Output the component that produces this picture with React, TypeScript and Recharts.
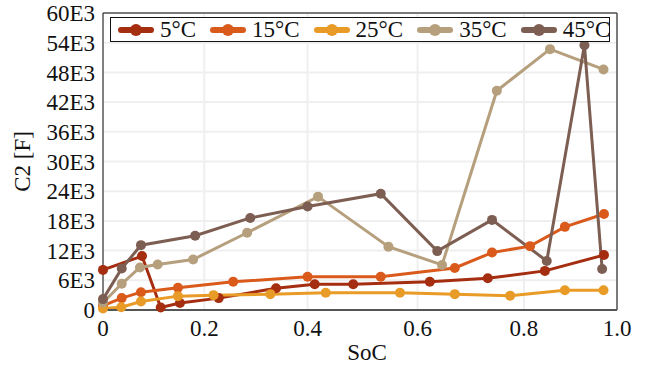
import React from 'react';
import { LineChart, Line, XAxis, YAxis, CartesianGrid, Legend, ReferenceLine } from 'recharts';

const FONT = '"Liberation Serif", "Times New Roman", serif';

const SERIES_NAMES = ['5°C', '15°C', '25°C', '35°C', '45°C'];
const SERIES_COLORS = ['#a52d10', '#da5a1b', '#e89c27', '#b59f7d', '#7d5e52'];

const SOC_5 = [0, 0.077, 0.114, 0.152, 0.228, 0.339, 0.413, 0.483, 0.623, 0.732, 0.845, 0.972];
const C2_5 = [8100, 10900, 500, 1400, 2400, 4400, 5200, 5200, 5700, 6400, 7900, 11100];

const SOC_15 = [0, 0.037, 0.075, 0.148, 0.256, 0.4, 0.533, 0.67, 0.74, 0.813, 0.888, 0.972];
const C2_15 = [900, 2400, 3600, 4500, 5700, 6700, 6700, 8500, 11600, 12900, 16800, 19400];

const SOC_25 = [0, 0.036, 0.075, 0.148, 0.218, 0.328, 0.433, 0.568, 0.67, 0.774, 0.888, 0.971];
const C2_25 = [300, 550, 1700, 2800, 3000, 3200, 3500, 3500, 3200, 2900, 4000, 4000];

const SOC_35 = [0, 0.037, 0.073, 0.108, 0.178, 0.283, 0.419, 0.547, 0.646, 0.749, 0.856, 0.971];
const C2_35 = [1500, 5300, 8600, 9200, 10200, 15600, 22900, 12800, 9100, 44300, 52700, 48600];

const SOC_45 = [0, 0.037, 0.075, 0.182, 0.289, 0.4, 0.533, 0.637, 0.74, 0.849, 0.93, 0.968];
const C2_45 = [2200, 8400, 13100, 15000, 18600, 20900, 23500, 11900, 18200, 9900, 53500, 8300];

const X_TICKS = [0, 0.2, 0.4, 0.6, 0.8, 1.0];
const X_TICK_LABELS = ['0', '0.2', '0.4', '0.6', '0.8', '1.0'];
const Y_TICKS = [0, 6000, 12000, 18000, 24000, 30000, 36000, 42000, 48000, 54000, 60000];
const Y_TICK_LABELS = ['0', '6E3', '12E3', '18E3', '24E3', '30E3', '36E3', '42E3', '48E3', '54E3', '60E3'];

// the reference's x axis is not evenly spaced: fraction of the axis length at each tick
const X_AXIS_FRACTIONS = [0, 0.197, 0.398, 0.612, 0.819, 1];

const zip = (xs: number[], ys: number[]) => xs.map((x, i) => ({ soc: x, c2: ys[i] }));

const SERIES = [
  { name: SERIES_NAMES[0], color: SERIES_COLORS[0], data: zip(SOC_5, C2_5) },
  { name: SERIES_NAMES[1], color: SERIES_COLORS[1], data: zip(SOC_15, C2_15) },
  { name: SERIES_NAMES[2], color: SERIES_COLORS[2], data: zip(SOC_25, C2_25) },
  { name: SERIES_NAMES[3], color: SERIES_COLORS[3], data: zip(SOC_35, C2_35) },
  { name: SERIES_NAMES[4], color: SERIES_COLORS[4], data: zip(SOC_45, C2_45) },
];

function piecewiseScale(knots: number[], fracs: number[], dom: number[] = [0, 1], rng: number[] = [0, 1]): any {
  let d = dom.slice();
  let r = rng.slice();
  const s: any = (v: number) => {
    let i = 0;
    while (i < knots.length - 2 && v > knots[i + 1]) i++;
    const f = fracs[i] + ((v - knots[i]) / (knots[i + 1] - knots[i])) * (fracs[i + 1] - fracs[i]);
    return r[0] + f * (r[1] - r[0]);
  };
  s.domain = (x?: number[]) => {
    if (x === undefined) return d.slice();
    d = Array.from(x);
    return s;
  };
  s.range = (x?: number[]) => {
    if (x === undefined) return r.slice();
    r = Array.from(x);
    return s;
  };
  s.copy = () => piecewiseScale(knots, fracs, d, r);
  s.ticks = () => knots.slice();
  s.invert = (p: number) => {
    const f = (p - r[0]) / (r[1] - r[0]);
    let i = 0;
    while (i < fracs.length - 2 && f > fracs[i + 1]) i++;
    return knots[i] + ((f - fracs[i]) / (fracs[i + 1] - fracs[i])) * (knots[i + 1] - knots[i]);
  };
  return s;
}

const xScale = piecewiseScale(X_TICKS, X_AXIS_FRACTIONS);

const tickStyle = { fontFamily: FONT, fontSize: 23, fill: '#111' };

const renderLegend = () => (
  <div
    style={{
      boxSizing: 'border-box',
      width: 500,
      height: 25,
      border: '1px solid #111',
      background: '#fff',
      display: 'flex',
      alignItems: 'center',
      paddingLeft: 7,
      fontFamily: FONT,
      fontSize: 23,
      color: '#111',
      whiteSpace: 'nowrap',
    }}
  >
    {SERIES.map((s) => (
      <div key={s.name} style={{ display: 'flex', alignItems: 'center', marginRight: 14 }}>
        <svg width={36} height={14} style={{ display: 'block' }}>
          <line x1={3} y1={7} x2={33} y2={7} stroke={s.color} strokeWidth={6} strokeLinecap="round" />
          <circle cx={18} cy={7} r={6} fill={s.color} />
        </svg>
        <span style={{ marginLeft: 6, lineHeight: '23px' }}>{s.name}</span>
      </div>
    ))}
  </div>
);

const YLabel = (props: any) => {
  const vb = props.viewBox || { x: 0, y: 0, width: 0, height: 0 };
  const x = vb.x + 30;
  const y = vb.y + vb.height / 2;
  return (
    <text
      x={x}
      y={y}
      transform={`rotate(-90, ${x}, ${y})`}
      textAnchor="middle"
      fontFamily={FONT}
      fontSize={23}
      fill="#111"
    >
      C2 [F]
    </text>
  );
};

export default function App() {
  return (
    <div style={{ position: 'absolute', left: 0, top: 0, background: '#fff' }}>
      <LineChart width={648} height={365} margin={{ top: 13, right: 31, bottom: 25, left: 0 }}>
        <CartesianGrid stroke="#efefef" strokeWidth={2} />
        <XAxis
          dataKey="soc"
          type="number"
          scale={xScale}
          domain={[0, 1]}
          ticks={X_TICKS}
          tickFormatter={(v: number) => X_TICK_LABELS[X_TICKS.indexOf(v)] ?? String(v)}
          tick={tickStyle}
          tickLine={false}
          tickMargin={4}
          height={30}
          axisLine={{ stroke: '#555', strokeWidth: 2 }}
          allowDuplicatedCategory={false}
          label={{ value: 'SoC', position: 'bottom', offset: 4, dx: 7, style: { fontFamily: FONT, fontSize: 23, fill: '#111' } }}
        />
        <YAxis
          type="number"
          domain={[0, 60000]}
          ticks={Y_TICKS}
          tickFormatter={(v: number) => Y_TICK_LABELS[Y_TICKS.indexOf(v)] ?? String(v)}
          tick={tickStyle}
          tickLine={false}
          width={103}
          axisLine={{ stroke: '#111', strokeWidth: 1 }}
          interval={0}
          label={<YLabel />}
        />
        <ReferenceLine y={60000} stroke="#555" strokeWidth={1.5} />
        <ReferenceLine x={1} stroke="#555" strokeWidth={1.5} />
        {SERIES.map((s) => (
          <Line
            key={s.name}
            name={s.name}
            data={s.data}
            dataKey="c2"
            type="linear"
            stroke={s.color}
            strokeWidth={3}
            dot={{ r: 5, fill: s.color, stroke: s.color, strokeWidth: 0 }}
            activeDot={false}
            isAnimationActive={false}
          />
        ))}
        <Legend
          layout="horizontal"
          verticalAlign="middle"
          align="center"
          content={renderLegend}
          wrapperStyle={{ left: 110, top: 17, width: 500, height: 25 }}
        />
      </LineChart>
    </div>
  );
}
